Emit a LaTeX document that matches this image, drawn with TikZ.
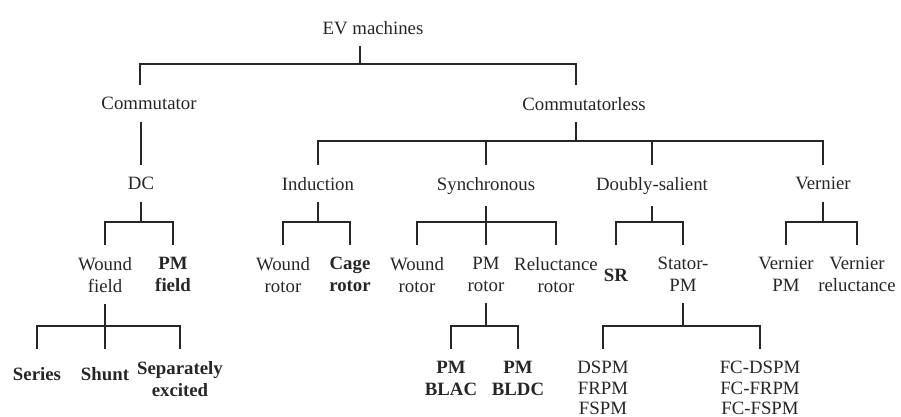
\documentclass[tikz,border=0pt]{standalone}
\usepackage{fontspec}
\setmainfont{Liberation Serif}

\tikzset{
  lbl/.style={anchor=north, align=center, inner xsep=1pt, inner ysep=5.8pt,
    text=black!85, font=\fontsize{9.4}{11}\selectfont},
  bld/.style={lbl, font=\fontsize{9.4}{11}\selectfont\bfseries},
  stack/.style={lbl, font=\fontsize{9.4}{10.3}\selectfont},
  branch/.style={draw=black!85, line width=1.1pt},
}

\begin{document}
\begin{tikzpicture}[x=0.5pt, y=-0.5pt]
\useasboundingbox (0,0) rectangle (901,417);
% level 1 and 2
\node[lbl](ev) at (373,9){EV machines};
\node[lbl](comm) at (149,85){Commutator};
\node[lbl](cless) at (584,85){Commutatorless};
% level 3
\node[lbl](dc) at (141,165){DC};
\node[lbl](ind) at (318,165){Induction};
\node[lbl](syn) at (486,165){Synchronous};
\node[lbl](dbl) at (652,165){Doubly-salient};
\node[lbl](ver) at (823,165){Vernier};
% level 4
\node[lbl](wf) at (105,245){Wound\\field};
\node[bld](pmf) at (173,245){PM\\field};
\node[lbl](wr1) at (283,245){Wound\\rotor};
\node[bld](cage) at (350,245){Cage\\rotor};
\node[lbl](wr2) at (417,245){Wound\\rotor};
\node[lbl](pmr) at (486,245){PM\\rotor};
\node[lbl](rel) at (556,245){Reluctance\\rotor};
\node[bld, text height=12.2pt](sr) at (616,245){SR};
\node[lbl](spm) at (683,245){Stator-\\PM};
\node[lbl](vpm) at (786,245){Vernier\\PM};
\node[lbl](vrel) at (857,245){Vernier\\reluctance};
% level 5
\node[bld, text height=9.5pt](ser) at (37,349){Series};
\node[bld, text height=9.5pt](shu) at (105,349){Shunt};
\node[bld](sep) at (180,349){Separately\\excited};
\node[bld](blac) at (451,349){PM\\BLAC};
\node[bld](bldc) at (518,349){PM\\BLDC};
\node[stack](dspm) at (603,349){DSPM\\FRPM\\FSPM};
\node[stack](fcpm) at (760,349){FC-DSPM\\FC-FRPM\\FC-FSPM};
% connectors
\draw[branch] (ev.south -| 360,0) |- (140,64) -- (140,0 |- comm.north);
\draw[branch] (360,64) -| (576,0 |- cless.north);
\draw[branch] (comm.south -| dc.north) -- (dc.north);
\foreach \c in {ind,syn,dbl,ver}
  \draw[branch] (cless.south -| 576,0) -- (576,141) -| (\c.north);
\foreach \c in {wf,pmf}
  \draw[branch] (dc.south) -- (dc.south |- 0,222) -| (\c.north);
\foreach \c in {wr1,cage}
  \draw[branch] (ind.south) -- (ind.south |- 0,222) -| (\c.north);
\foreach \c in {wr2,pmr,rel}
  \draw[branch] (syn.south) -- (syn.south |- 0,222) -| (\c.north);
\foreach \c in {sr,spm}
  \draw[branch] (dbl.south) -- (dbl.south |- 0,222) -| (\c.north);
\foreach \c in {vpm,vrel}
  \draw[branch] (ver.south) -- (ver.south |- 0,222) -| (\c.north);
\foreach \c in {ser,shu,sep}
  \draw[branch] (wf.south) -- (wf.south |- 0,326) -| (\c.north);
\foreach \c in {blac,bldc}
  \draw[branch] (pmr.south) -- (pmr.south |- 0,326) -| (\c.north);
\foreach \c in {dspm,fcpm}
  \draw[branch] (spm.south) -- (spm.south |- 0,326) -| (\c.north);
\end{tikzpicture}
\end{document}
